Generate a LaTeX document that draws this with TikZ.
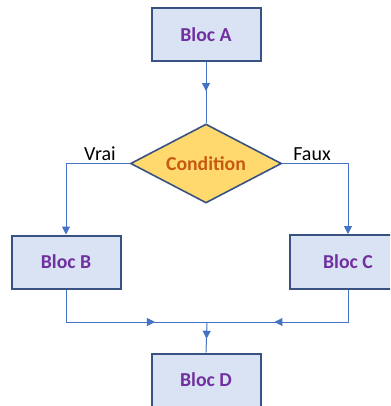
\documentclass[tikz,border=0pt]{standalone}
\usepackage{fontspec}
\setmainfont{Carlito}
\usetikzlibrary{arrows.meta, positioning, shapes.geometric, decorations.markings}

\begin{document}
\begin{tikzpicture}[x=0.75pt, y=-0.75pt,
  bloc/.style={rectangle, draw=boxline, fill=boxfill, line width=1.5pt,
    minimum width=81.75pt, minimum height=39.75pt, align=center,
    font=\fontsize{14.8}{17}\selectfont\bfseries, text=blocviolet},
  test/.style={diamond, draw=boxline, fill=condfill, line width=1.2pt, aspect=1.9,
    minimum width=113.25pt, minimum height=59.25pt, inner sep=1pt,
    font=\fontsize{14.8}{17}\selectfont\bfseries, text=condorange},
  lbl/.style={font=\fontsize{15}{17}\selectfont, text=black},
  link/.style={draw=linkblue, line width=0.75pt},
  tip/.style={-{Triangle[length=6pt, width=6pt]}},
  mid tip/.style={postaction=decorate, decoration={markings,
    mark=at position #1 with {\arrow[linkblue]{Triangle[length=6pt, width=6pt]}}}}]
  % Colors of the flowchart
  \definecolor{boxfill}{RGB}{218,227,243}     % Light blue
  \definecolor{boxline}{RGB}{56,82,130}       % Dark blue
  \definecolor{blocviolet}{RGB}{112,48,160}   % Purple
  \definecolor{condfill}{RGB}{255,217,110}    % Gold
  \definecolor{condorange}{RGB}{197,90,17}    % Orange
  \definecolor{linkblue}{RGB}{68,114,196}     % Blue

  \clip (0,0) rectangle (390,406);

  % Blocks
  \node[bloc] (a) at (206,35) {Bloc A};
  \node[test] (cond) at (206,163.5) {Condition};
  \node[bloc] (b) at (66,262) {Bloc B};
  \node[bloc, minimum width=87pt, minimum height=40.5pt] (c) at (348,262) {Bloc C};
  \node[bloc] (d) at (206,380) {Bloc D};
  \coordinate (join) at (207,322);

  % Labels of the branches
  \node[lbl] (vrai) at (100,154) {Vrai};
  \node[lbl] (faux) at (312,154) {Faux};

  % Connectors
  \draw[link, mid tip=0.47] (a.south) -- (cond.north);
  \draw[link, tip] (cond.west) -| (b.north);
  \draw[link, tip] (cond.east) -| (c.north);
  \draw[link, mid tip=0.7] (b.south) |- (join);
  \draw[link, mid tip=0.61] (c.south) |- (join);
  \draw[link, mid tip=0.55] (join) -- (d.north);
\end{tikzpicture}
\end{document}
